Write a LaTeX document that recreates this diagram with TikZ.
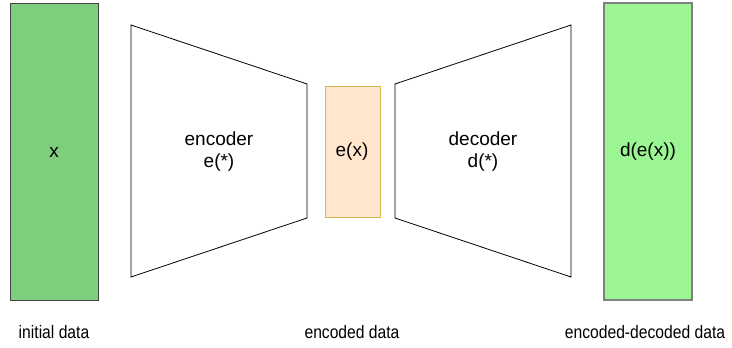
\documentclass[tikz,border=0pt]{standalone}
\usepackage{fontspec}
\setmainfont{Liberation Sans}
\usepackage{xcolor}
\usepackage{graphicx}
\usetikzlibrary{positioning, calc}

\definecolor{inputgreen}{HTML}{7FCE7D}
\definecolor{outputgreen}{HTML}{9AF592}
\definecolor{codefill}{HTML}{FFE6CC}
\definecolor{codeline}{HTML}{D6B656}
\definecolor{boxline}{HTML}{444444}

\begin{document}
\begin{tikzpicture}[x=1pt, y=-1pt,
    lbl/.style={font=\fontsize{19}{22}\selectfont, align=center},
    caption/.style={font=\fontsize{18}{21}\selectfont}]
    \useasboundingbox (0,0) rectangle (732,348);

    % data blocks
    \draw[fill=inputgreen, draw=boxline, line width=0.9pt] (10,3) rectangle (98,300);
    \draw[fill=outputgreen, draw=gray, line width=1.3pt] (604,3) rectangle (692,300);
    \draw[fill=codefill, draw=codeline, line width=0.9pt] (325,86) rectangle (380,217);

    % encoder and decoder
    \draw[line width=0.8pt] (131,25) -- (307,84) -- (307,218) -- (131,277) -- cycle;
    \draw[line width=0.8pt] (395,84) -- (571,25) -- (571,277) -- (395,218) -- cycle;

    \node[lbl] (input) at (54,152) {x};
    \node[lbl] (encoder) at (219,152) {encoder\\e(*)};
    \node[lbl] (code) at (352,152) {e(x)};
    \node[lbl] (decoder) at (483,152) {decoder\\d(*)};
    \node[lbl] (output) at (648,152) {d(e(x))};

    \node[caption] (inputcap) at (54,332) {\scalebox{0.87}[1]{initial data}};
    \node[caption] (codecap) at (352,332) {\scalebox{0.87}[1]{encoded data}};
    \node[caption] (outputcap) at (645,332) {\scalebox{0.87}[1]{encoded-decoded data}};
\end{tikzpicture}
\end{document}
